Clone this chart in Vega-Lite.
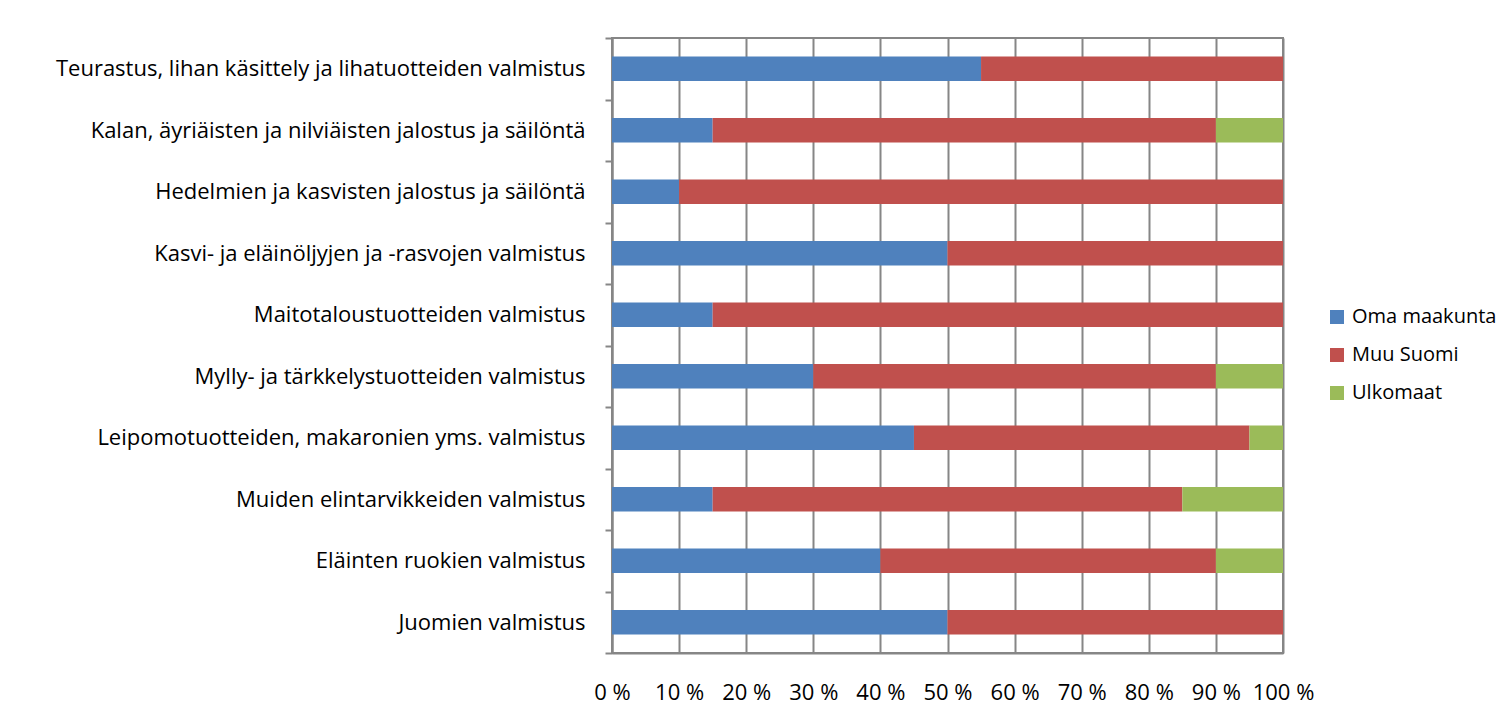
{
  "$schema": "https://vega.github.io/schema/vega-lite/v6.json",
  "width": 671,
  "height": 615,
  "autosize": {"type": "none"},
  "padding": {"left": 612, "top": 38, "right": 223, "bottom": 75},
  "background": "white",
  "config": {
    "font": "Open Sans",
    "view": {"stroke": "#868686", "strokeWidth": 2}
  },
  "data": {
    "values": [
      {"toimiala": "Teurastus, lihan käsittely ja lihatuotteiden valmistus", "alue": "Oma maakunta", "o": 1, "osuus": 55},
      {"toimiala": "Teurastus, lihan käsittely ja lihatuotteiden valmistus", "alue": "Muu Suomi", "o": 2, "osuus": 45},
      {"toimiala": "Teurastus, lihan käsittely ja lihatuotteiden valmistus", "alue": "Ulkomaat", "o": 3, "osuus": 0},
      {"toimiala": "Kalan, äyriäisten ja nilviäisten jalostus ja säilöntä", "alue": "Oma maakunta", "o": 1, "osuus": 15},
      {"toimiala": "Kalan, äyriäisten ja nilviäisten jalostus ja säilöntä", "alue": "Muu Suomi", "o": 2, "osuus": 75},
      {"toimiala": "Kalan, äyriäisten ja nilviäisten jalostus ja säilöntä", "alue": "Ulkomaat", "o": 3, "osuus": 10},
      {"toimiala": "Hedelmien ja kasvisten jalostus ja säilöntä", "alue": "Oma maakunta", "o": 1, "osuus": 10},
      {"toimiala": "Hedelmien ja kasvisten jalostus ja säilöntä", "alue": "Muu Suomi", "o": 2, "osuus": 90},
      {"toimiala": "Hedelmien ja kasvisten jalostus ja säilöntä", "alue": "Ulkomaat", "o": 3, "osuus": 0},
      {"toimiala": "Kasvi- ja eläinöljyjen ja -rasvojen valmistus", "alue": "Oma maakunta", "o": 1, "osuus": 50},
      {"toimiala": "Kasvi- ja eläinöljyjen ja -rasvojen valmistus", "alue": "Muu Suomi", "o": 2, "osuus": 50},
      {"toimiala": "Kasvi- ja eläinöljyjen ja -rasvojen valmistus", "alue": "Ulkomaat", "o": 3, "osuus": 0},
      {"toimiala": "Maitotaloustuotteiden  valmistus", "alue": "Oma maakunta", "o": 1, "osuus": 15},
      {"toimiala": "Maitotaloustuotteiden  valmistus", "alue": "Muu Suomi", "o": 2, "osuus": 85},
      {"toimiala": "Maitotaloustuotteiden  valmistus", "alue": "Ulkomaat", "o": 3, "osuus": 0},
      {"toimiala": "Mylly- ja tärkkelystuotteiden  valmistus", "alue": "Oma maakunta", "o": 1, "osuus": 30},
      {"toimiala": "Mylly- ja tärkkelystuotteiden  valmistus", "alue": "Muu Suomi", "o": 2, "osuus": 60},
      {"toimiala": "Mylly- ja tärkkelystuotteiden  valmistus", "alue": "Ulkomaat", "o": 3, "osuus": 10},
      {"toimiala": "Leipomotuotteiden, makaronien yms. valmistus", "alue": "Oma maakunta", "o": 1, "osuus": 45},
      {"toimiala": "Leipomotuotteiden, makaronien yms. valmistus", "alue": "Muu Suomi", "o": 2, "osuus": 50},
      {"toimiala": "Leipomotuotteiden, makaronien yms. valmistus", "alue": "Ulkomaat", "o": 3, "osuus": 5},
      {"toimiala": "Muiden elintarvikkeiden valmistus", "alue": "Oma maakunta", "o": 1, "osuus": 15},
      {"toimiala": "Muiden elintarvikkeiden valmistus", "alue": "Muu Suomi", "o": 2, "osuus": 70},
      {"toimiala": "Muiden elintarvikkeiden valmistus", "alue": "Ulkomaat", "o": 3, "osuus": 15},
      {"toimiala": "Eläinten ruokien valmistus", "alue": "Oma maakunta", "o": 1, "osuus": 40},
      {"toimiala": "Eläinten ruokien valmistus", "alue": "Muu Suomi", "o": 2, "osuus": 50},
      {"toimiala": "Eläinten ruokien valmistus", "alue": "Ulkomaat", "o": 3, "osuus": 10},
      {"toimiala": "Juomien valmistus", "alue": "Oma maakunta", "o": 1, "osuus": 50},
      {"toimiala": "Juomien valmistus", "alue": "Muu Suomi", "o": 2, "osuus": 50},
      {"toimiala": "Juomien valmistus", "alue": "Ulkomaat", "o": 3, "osuus": 0}
    ]
  },
  "mark": {"type": "bar", "height": {"band": 0.4}},
  "encoding": {
    "y": {
      "field": "toimiala",
      "type": "nominal",
      "sort": null,
      "scale": {"paddingInner": 0, "paddingOuter": 0},
      "axis": {
        "title": null,
        "labelFontSize": 22,
        "labelColor": "#000000",
        "labelPadding": 20,
        "labelLimit": 700,
        "tickBand": "extent",
        "tickSize": 7,
        "tickColor": "#868686",
        "tickWidth": 2,
        "domainColor": "#868686",
        "domainWidth": 2
      }
    },
    "x": {
      "field": "osuus",
      "type": "quantitative",
      "stack": "zero",
      "scale": {"domain": [0, 100], "nice": false},
      "axis": {
        "title": null,
        "values": [0, 10, 20, 30, 40, 50, 60, 70, 80, 90, 100],
        "labelExpr": "datum.value + ' %'",
        "labelFontSize": 22,
        "labelColor": "#000000",
        "labelPadding": 29,
        "ticks": false,
        "grid": true,
        "gridColor": "#868686",
        "gridWidth": 2,
        "domainColor": "#868686",
        "domainWidth": 2,
        "labelFlush": false,
        "labelOverlap": false
      }
    },
    "color": {
      "field": "alue",
      "type": "nominal",
      "scale": {
        "domain": ["Oma maakunta", "Muu Suomi", "Ulkomaat"],
        "range": ["#4F81BD", "#C0504D", "#9BBB59"]
      },
      "legend": {
        "title": null,
        "orient": "none",
        "legendX": 715,
        "legendY": 269,
        "symbolType": "square",
        "symbolSize": 196,
        "symbolStrokeWidth": 0,
        "labelFontSize": 20,
        "labelColor": "#000000",
        "labelOffset": 5,
        "rowPadding": 18,
        "labelLimit": 300
      }
    },
    "order": {"field": "o", "type": "quantitative"}
  }
}
